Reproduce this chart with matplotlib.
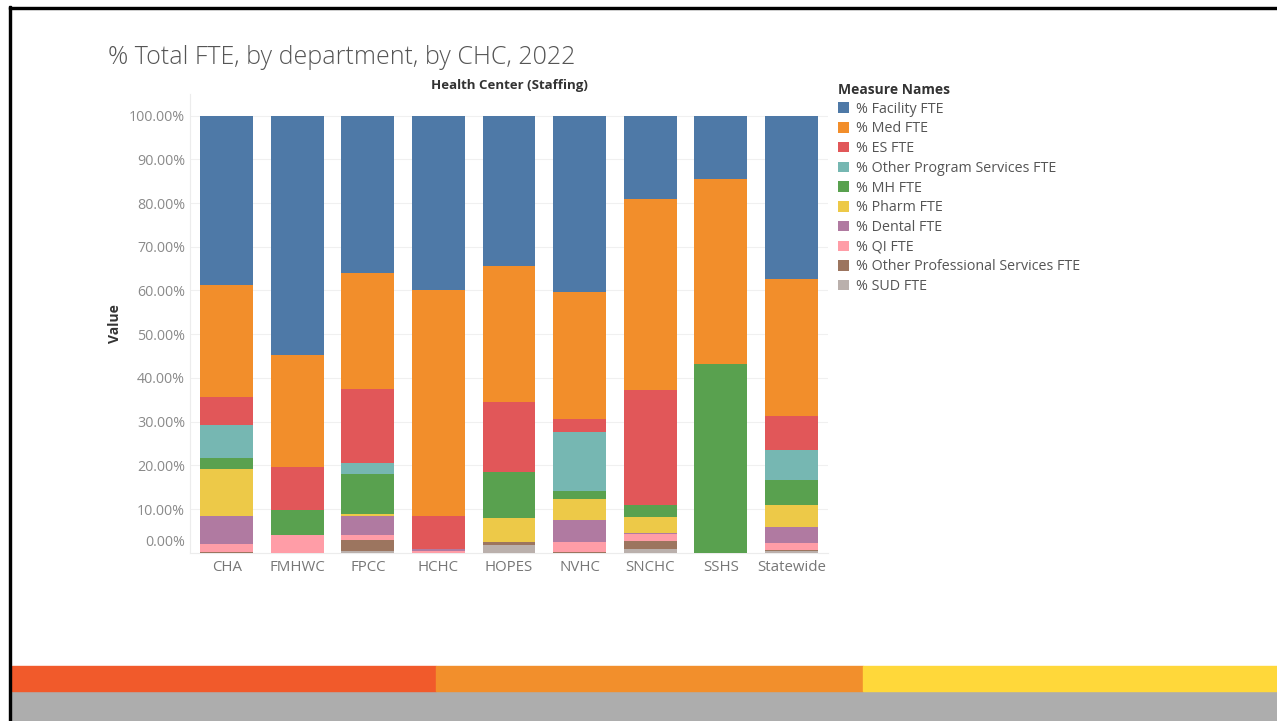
import numpy as np
import matplotlib
matplotlib.use('Agg')
import matplotlib.pyplot as plt
from matplotlib.patches import Rectangle, Patch

plt.rcParams['font.family'] = ['Open Sans', 'DejaVu Sans']

# data (percent of total FTE)
centers = ['CHA', 'FMHWC', 'FPCC', 'HCHC', 'HOPES', 'NVHC', 'SNCHC', 'SSHS', 'Statewide']
measures = ['% Facility FTE', '% Med FTE', '% ES FTE', '% Other Program Services FTE',
            '% MH FTE', '% Pharm FTE', '% Dental FTE', '% QI FTE',
            '% Other Professional Services FTE', '% SUD FTE']
facility = [38.7, 54.8, 36.1, 40.0, 34.3, 40.4, 19.0, 14.4, 37.4]
med      = [25.6, 25.7, 26.4, 51.6, 31.3, 29.1, 43.8, 42.4, 31.3]
es       = [6.5, 9.7, 16.9, 7.6, 16.0, 2.9, 26.3, 0.0, 7.8]
other_prog = [7.6, 0.0, 2.7, 0.0, 0.0, 13.4, 0.0, 0.0, 6.9]
mh       = [2.4, 5.75, 9.1, 0.0, 10.5, 1.9, 2.8, 43.2, 5.7]
pharm    = [10.8, 0.0, 0.3, 0.0, 5.5, 4.7, 3.7, 0.0, 5.1]
dental   = [6.5, 0.0, 4.45, 0.35, 0.0, 5.2, 0.2, 0.0, 3.5]
qi       = [1.7, 4.05, 1.15, 0.45, 0.0, 2.2, 1.5, 0.0, 1.7]
other_prof = [0.2, 0.0, 2.45, 0.0, 0.64, 0.2, 1.85, 0.0, 0.3]
sud      = [0.0, 0.0, 0.46, 0.0, 1.76, 0.0, 0.85, 0.0, 0.3]

series = [facility, med, es, other_prog, mh, pharm, dental, qi, other_prof, sud]
colors = ['#4e79a7', '#f28e2b', '#e15759', '#76b7b2', '#59a14f',
          '#edc948', '#b07aa1', '#ff9da7', '#9c755f', '#bab0ac']

fig = plt.figure(figsize=(12.77, 7.21), dpi=100)
ax = fig.add_axes([0.1488, 0.2334, 0.4996, 0.6365])

x = np.arange(len(centers))
bottom = np.zeros(len(centers))
# stack from SUD at the bottom up to Facility at the top
for vals, col in zip(series[::-1], colors[::-1]):
    vals = np.array(vals)
    ax.bar(x, vals, bottom=bottom, width=0.75, color=col, linewidth=0, zorder=3)
    bottom += vals

ax.set_xlim(-0.52, 8.52)
ax.set_ylim(0, 105)
ax.set_yticks(range(0, 101, 10))
ax.set_yticklabels([''] + ['%d.00%%' % v for v in range(10, 101, 10)])
ax.annotate('0.00%', xy=(0, 0), xycoords=('axes fraction', 'data'),
            xytext=(-3.6, 7.3), textcoords='offset points',
            ha='right', va='center', fontsize=10.3, color='#8a8a8a')
ax.set_xticks(x)
ax.set_xticklabels(centers)
ax.tick_params(axis='y', length=0, pad=3.6, labelsize=10.3, labelcolor='#8a8a8a')
ax.tick_params(axis='x', length=0, pad=5, labelsize=10.8, labelcolor='#777777')
ax.grid(axis='y', color='#f0f0f0', linewidth=0.8, zorder=0)
for s in ['top', 'right']:
    ax.spines[s].set_visible(False)
ax.spines['left'].set_color('#ececec')
ax.spines['bottom'].set_color('#ececec')
ax.set_ylabel('Value', fontsize=10, fontweight='bold', color='#333333', labelpad=5)

fig.text(108 / 1277, 1 - 58 / 721, '% Total FTE, by department, by CHC, 2022',
         fontsize=18, color='#555555', va='center', ha='left', fontweight='light')
fig.text(509 / 1277, 1 - 86 / 721, 'Health Center (Staffing)', fontsize=9.5,
         fontweight='bold', color='#333333', ha='center', va='center')

handles = [Patch(facecolor=c, edgecolor='none') for c in colors]
leg = fig.legend(handles, measures, loc='upper left', bbox_to_anchor=(838 / 1277, 1 - 83 / 721),
                 frameon=False, title='Measure Names', alignment='left',
                 title_fontproperties={'weight': 'bold', 'size': 10},
                 fontsize=10.3, handlelength=0.75, handleheight=0.75, handletextpad=0.5,
                 labelspacing=0.33, borderaxespad=0, borderpad=0)
for t in leg.get_texts():
    t.set_color('#555555')
leg.get_title().set_color('#333333')

# slide decoration
fig.patches.append(Rectangle((12 / 1277, 0), 1, 30 / 721, transform=fig.transFigure,
                             color='#adadad', zorder=0))
band_colors = ['#f15a2b', '#f28f2c', '#ffd83a']
band_edges = [12, 436, 863, 1277]
for i in range(3):
    fig.patches.append(Rectangle((band_edges[i] / 1277, 30 / 721),
                                 (band_edges[i + 1] - band_edges[i]) / 1277, 25 / 721,
                                 transform=fig.transFigure, color=band_colors[i], zorder=0))
fig.patches.append(Rectangle((9 / 1277, 0), 2 / 1277, 1 - 6 / 721, transform=fig.transFigure,
                             color='black', zorder=1))
fig.patches.append(Rectangle((9 / 1277, 1 - 9 / 721), 1, 2 / 721, transform=fig.transFigure,
                             color='black', zorder=1))

fig.savefig('out.png', dpi=100)
